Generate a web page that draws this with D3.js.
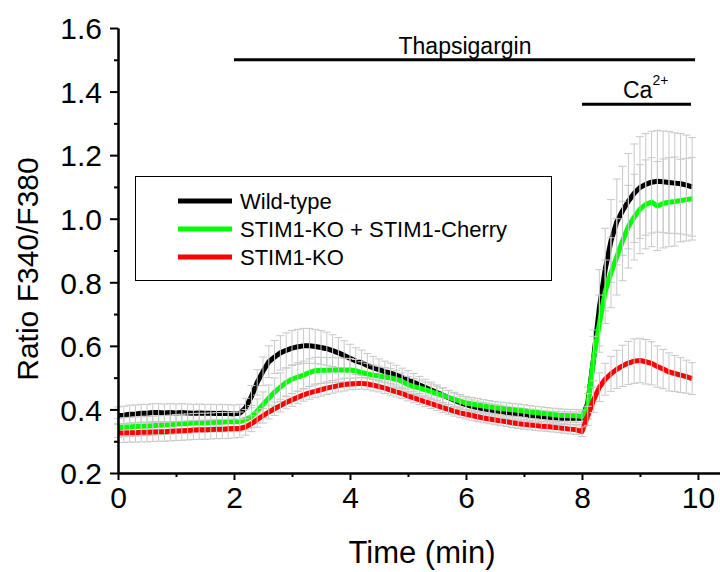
<!DOCTYPE html>
<html>
<head>
<meta charset="utf-8">
<script src="https://cdn.jsdelivr.net/npm/d3@7"></script>
<style>
  body { margin: 0; background: #fff; }
  text { font-family: "Liberation Sans", Arial, sans-serif; fill: #000; }
</style>
</head>
<body>
<svg width="720" height="572"></svg>
<script>
// sample times (min)
var times = [
  0.0,0.1,0.2,0.3,0.4,0.5,0.6,0.7,0.8,0.9, 1.0,1.1,1.2,1.3,1.4,1.5,1.6,1.7,1.8,1.9,
  2.0,2.1,2.2,2.3,2.4,2.5,2.6,2.7,2.8,2.9, 3.0,3.1,3.2,3.3,3.4,3.5,3.6,3.7,3.8,3.9,
  4.0,4.1,4.2,4.3,4.4,4.5,4.6,4.7,4.8,4.9, 5.0,5.1,5.2,5.3,5.4,5.5,5.6,5.7,5.8,5.9,
  6.0,6.1,6.2,6.3,6.4,6.5,6.6,6.7,6.8,6.9, 7.0,7.1,7.2,7.3,7.4,7.5,7.6,7.7,7.8,7.9,
  8.0,8.1,8.2,8.3,8.4,8.5,8.6,8.7,8.8,8.9, 9.0,9.1,9.2,9.3,9.4,9.5,9.6,9.7,9.8,9.9
];

var wildType = [
  0.380,0.382,0.385,0.386,0.388,0.388,0.390,0.390,0.389,0.390,
  0.389,0.390,0.389,0.388,0.389,0.388,0.388,0.387,0.388,0.387,
  0.386,0.388,0.405,0.440,0.485,0.520,0.550,0.565,0.578,0.586,
  0.593,0.597,0.600,0.600,0.598,0.595,0.591,0.585,0.578,0.570,
  0.561,0.552,0.547,0.538,0.531,0.525,0.519,0.514,0.508,0.500,
  0.493,0.485,0.477,0.469,0.461,0.453,0.445,0.437,0.429,0.421,
  0.415,0.410,0.406,0.402,0.399,0.396,0.393,0.390,0.387,0.385,
  0.383,0.381,0.379,0.377,0.375,0.374,0.373,0.372,0.372,0.372,
  0.372,0.420,0.560,0.720,0.840,0.930,0.990,1.025,1.055,1.080,
  1.098,1.108,1.115,1.118,1.116,1.114,1.112,1.110,1.106,1.100
];
var wildTypeErr = [
  0.028,0.028,0.028,0.028,0.028,0.028,0.028,0.028,0.028,0.028,
  0.028,0.028,0.028,0.028,0.028,0.028,0.028,0.028,0.028,0.028,
  0.028,0.028,0.030,0.035,0.040,0.045,0.050,0.052,0.054,0.055,
  0.055,0.055,0.055,0.055,0.054,0.053,0.052,0.050,0.048,0.046,
  0.044,0.042,0.040,0.038,0.036,0.034,0.033,0.032,0.031,0.030,
  0.029,0.028,0.027,0.026,0.025,0.024,0.023,0.022,0.022,0.021,
  0.021,0.020,0.020,0.020,0.020,0.020,0.020,0.020,0.020,0.020,
  0.020,0.020,0.020,0.020,0.020,0.020,0.020,0.020,0.020,0.020,
  0.020,0.050,0.090,0.120,0.130,0.130,0.135,0.140,0.150,0.155,
  0.160,0.160,0.160,0.160,0.160,0.160,0.158,0.158,0.157,0.155
];

var rescue = [
  0.342,0.344,0.345,0.346,0.347,0.348,0.349,0.350,0.351,0.352,
  0.354,0.355,0.356,0.357,0.358,0.358,0.359,0.360,0.360,0.361,
  0.361,0.362,0.368,0.377,0.395,0.415,0.435,0.455,0.470,0.485,
  0.495,0.502,0.508,0.516,0.522,0.523,0.523,0.524,0.524,0.524,
  0.524,0.522,0.516,0.512,0.508,0.505,0.502,0.499,0.495,0.488,
  0.478,0.472,0.467,0.462,0.456,0.450,0.444,0.438,0.432,0.426,
  0.420,0.417,0.414,0.411,0.408,0.405,0.403,0.401,0.399,0.397,
  0.395,0.392,0.390,0.388,0.386,0.384,0.382,0.381,0.380,0.380,
  0.378,0.410,0.560,0.670,0.770,0.830,0.880,0.930,0.975,1.005,
  1.030,1.045,1.052,1.040,1.048,1.052,1.054,1.057,1.060,1.063
];
var rescueErr = [
  0.030,0.030,0.030,0.030,0.030,0.030,0.030,0.030,0.030,0.030,
  0.030,0.030,0.030,0.030,0.030,0.030,0.030,0.030,0.030,0.030,
  0.030,0.030,0.032,0.035,0.038,0.040,0.042,0.044,0.045,0.045,
  0.045,0.045,0.044,0.043,0.042,0.041,0.040,0.039,0.038,0.037,
  0.036,0.035,0.034,0.033,0.032,0.031,0.030,0.029,0.028,0.027,
  0.026,0.025,0.025,0.024,0.024,0.023,0.023,0.022,0.022,0.021,
  0.021,0.021,0.021,0.020,0.020,0.020,0.020,0.020,0.020,0.020,
  0.020,0.020,0.020,0.020,0.020,0.020,0.020,0.020,0.020,0.020,
  0.020,0.040,0.070,0.090,0.100,0.110,0.120,0.125,0.130,0.135,
  0.140,0.140,0.140,0.140,0.140,0.140,0.140,0.130,0.130,0.130
];

var knockout = [
  0.326,0.326,0.327,0.327,0.328,0.328,0.329,0.330,0.330,0.331,
  0.332,0.333,0.334,0.335,0.336,0.336,0.337,0.338,0.338,0.339,
  0.340,0.340,0.345,0.355,0.368,0.380,0.392,0.402,0.412,0.422,
  0.430,0.438,0.446,0.452,0.457,0.462,0.467,0.471,0.475,0.478,
  0.480,0.481,0.482,0.480,0.476,0.472,0.467,0.461,0.455,0.450,
  0.442,0.436,0.430,0.424,0.418,0.412,0.406,0.400,0.394,0.389,
  0.385,0.381,0.377,0.373,0.370,0.367,0.364,0.361,0.358,0.355,
  0.353,0.351,0.349,0.347,0.346,0.344,0.342,0.340,0.338,0.336,
  0.330,0.380,0.430,0.470,0.495,0.512,0.526,0.537,0.546,0.552,
  0.554,0.550,0.545,0.535,0.527,0.518,0.513,0.508,0.503,0.497
];
var knockoutErr = [
  0.030,0.030,0.030,0.030,0.030,0.030,0.030,0.030,0.030,0.030,
  0.030,0.030,0.030,0.030,0.030,0.030,0.030,0.030,0.030,0.030,
  0.030,0.028,0.026,0.025,0.024,0.023,0.022,0.021,0.020,0.020,
  0.020,0.020,0.020,0.020,0.020,0.020,0.020,0.020,0.020,0.020,
  0.018,0.018,0.018,0.018,0.018,0.017,0.017,0.016,0.016,0.016,
  0.015,0.015,0.015,0.015,0.015,0.015,0.015,0.015,0.015,0.015,
  0.015,0.015,0.015,0.015,0.015,0.015,0.015,0.015,0.015,0.015,
  0.015,0.015,0.015,0.015,0.015,0.015,0.015,0.015,0.015,0.015,
  0.015,0.030,0.040,0.045,0.050,0.055,0.060,0.065,0.068,0.070,
  0.070,0.070,0.068,0.065,0.062,0.060,0.057,0.055,0.052,0.050
];

var seriesNames = ["Wild-type", "STIM1-KO + STIM1-Cherry", "STIM1-KO"];
var seriesColors = ["#000000", "#00ff00", "#ff0000"];
var seriesValues = [wildType, rescue, knockout];
var seriesErrors = [wildTypeErr, rescueErr, knockoutErr];

var xMajor = [0, 2, 4, 6, 8, 10];
var xMinor = [1, 3, 5, 7, 9];
var yMajor = [0.2, 0.4, 0.6, 0.8, 1.0, 1.2, 1.4, 1.6];
var yMinor = [0.3, 0.5, 0.7, 0.9, 1.1, 1.3, 1.5];

// treatment bars: [start, end, level]
var thapsigargin = [2, 9.95, 1.5];
var calcium = [8, 9.88, 1.36];

var svg = d3.select("svg");

var x = d3.scaleLinear().domain([0, 10.38]).range([118, 720]);
var y = d3.scaleLinear().domain([0.2, 1.6]).range([473, 28]);

// series: line then its error bars on top
var line = d3.line()
    .x(function(d, i) { return x(times[i]); })
    .y(function(d) { return y(d); });

[0, 1, 2].forEach(function(s) {
    var vals = seriesValues[s], errs = seriesErrors[s];
    svg.append("path")
        .datum(vals)
        .attr("d", line)
        .attr("fill", "none")
        .attr("stroke", seriesColors[s])
        .attr("stroke-width", 5)
        .attr("stroke-linejoin", "round");

    var bars = svg.append("g").attr("stroke", "#c8c8c8").attr("stroke-width", 1);
    vals.forEach(function(v, i) {
        var cx = x(times[i]);
        bars.append("line").attr("x1", cx).attr("x2", cx)
            .attr("y1", y(v - errs[i])).attr("y2", y(v + errs[i]));
        bars.append("line").attr("x1", cx - 4).attr("x2", cx + 4)
            .attr("y1", y(v + errs[i])).attr("y2", y(v + errs[i]));
        bars.append("line").attr("x1", cx - 4).attr("x2", cx + 4)
            .attr("y1", y(v - errs[i])).attr("y2", y(v - errs[i]));
    });
});

// axes
var xAxis = svg.append("g").attr("transform", "translate(0,473)")
    .call(d3.axisBottom(x).tickValues(xMajor).tickSize(7).tickSizeOuter(0).tickFormat(d3.format("d")));
var xMinorAxis = svg.append("g").attr("transform", "translate(0,473)")
    .call(d3.axisBottom(x).tickValues(xMinor).tickSize(4).tickSizeOuter(0).tickFormat(""));
var yAxis = svg.append("g").attr("transform", "translate(118,0)")
    .call(d3.axisLeft(y).tickValues(yMajor).tickSize(8).tickSizeOuter(0).tickFormat(d3.format(".1f")));
var yMinorAxis = svg.append("g").attr("transform", "translate(118,0)")
    .call(d3.axisLeft(y).tickValues(yMinor).tickSize(4).tickSizeOuter(0).tickFormat(""));

[xAxis, xMinorAxis, yAxis, yMinorAxis].forEach(function(g) {
    g.select(".domain").attr("stroke", "#000").attr("stroke-width", 2);
    g.selectAll(".tick line").attr("stroke", "#000").attr("stroke-width", 2);
});
xAxis.selectAll(".tick text").attr("font-size", 30).attr("font-family", "Liberation Sans, Arial, sans-serif")
    .attr("fill", "#000").attr("dy", "0.72em").attr("y", 13);
yAxis.selectAll(".tick text").attr("font-size", 30).attr("font-family", "Liberation Sans, Arial, sans-serif")
    .attr("fill", "#000").attr("x", -16).attr("dy", "0.36em");

// axis titles
svg.append("text")
    .attr("x", 422).attr("y", 563)
    .attr("text-anchor", "middle")
    .attr("font-size", 31)
    .text("Time (min)");

svg.append("text")
    .attr("transform", "translate(38,269) rotate(-90)")
    .attr("text-anchor", "middle")
    .attr("font-size", 30)
    .text("Ratio F340/F380");

// treatment annotations
svg.append("line")
    .attr("x1", x(thapsigargin[0])).attr("x2", x(thapsigargin[1]))
    .attr("y1", y(thapsigargin[2])).attr("y2", y(thapsigargin[2]))
    .attr("stroke", "#000").attr("stroke-width", 3);
svg.append("text")
    .attr("x", 465).attr("y", 54)
    .attr("text-anchor", "middle")
    .attr("font-size", 23)
    .text("Thapsigargin");

svg.append("line")
    .attr("x1", x(calcium[0])).attr("x2", x(calcium[1]))
    .attr("y1", y(calcium[2])).attr("y2", y(calcium[2]))
    .attr("stroke", "#000").attr("stroke-width", 3);
var ca = svg.append("text")
    .attr("x", 623).attr("y", 98)
    .attr("font-size", 23);
ca.append("tspan").text("Ca");
ca.append("tspan").attr("font-size", 14).attr("dy", -13).text("2+");

// legend
var legend = svg.append("g").attr("class", "legend");
legend.append("rect")
    .attr("x", 135.5).attr("y", 176.5)
    .attr("width", 416).attr("height", 104)
    .attr("fill", "#fff")
    .attr("stroke", "#000").attr("stroke-width", 1);

legend.selectAll(".legendSymbol")
    .data(seriesNames)
    .enter()
    .append("line")
    .attr("x1", 178).attr("x2", 232)
    .attr("y1", function(d, i) { return 201 + 28 * i; })
    .attr("y2", function(d, i) { return 201 + 28 * i; })
    .attr("stroke", function(d, i) { return seriesColors[i]; })
    .attr("stroke-width", 5);

legend.selectAll(".label")
    .data(seriesNames)
    .enter()
    .append("text")
    .attr("x", 240)
    .attr("y", function(d, i) { return 201 + 28 * i + 7.5; })
    .attr("font-size", 22)
    .text(function(d) { return d; });
</script>
</body>
</html>
